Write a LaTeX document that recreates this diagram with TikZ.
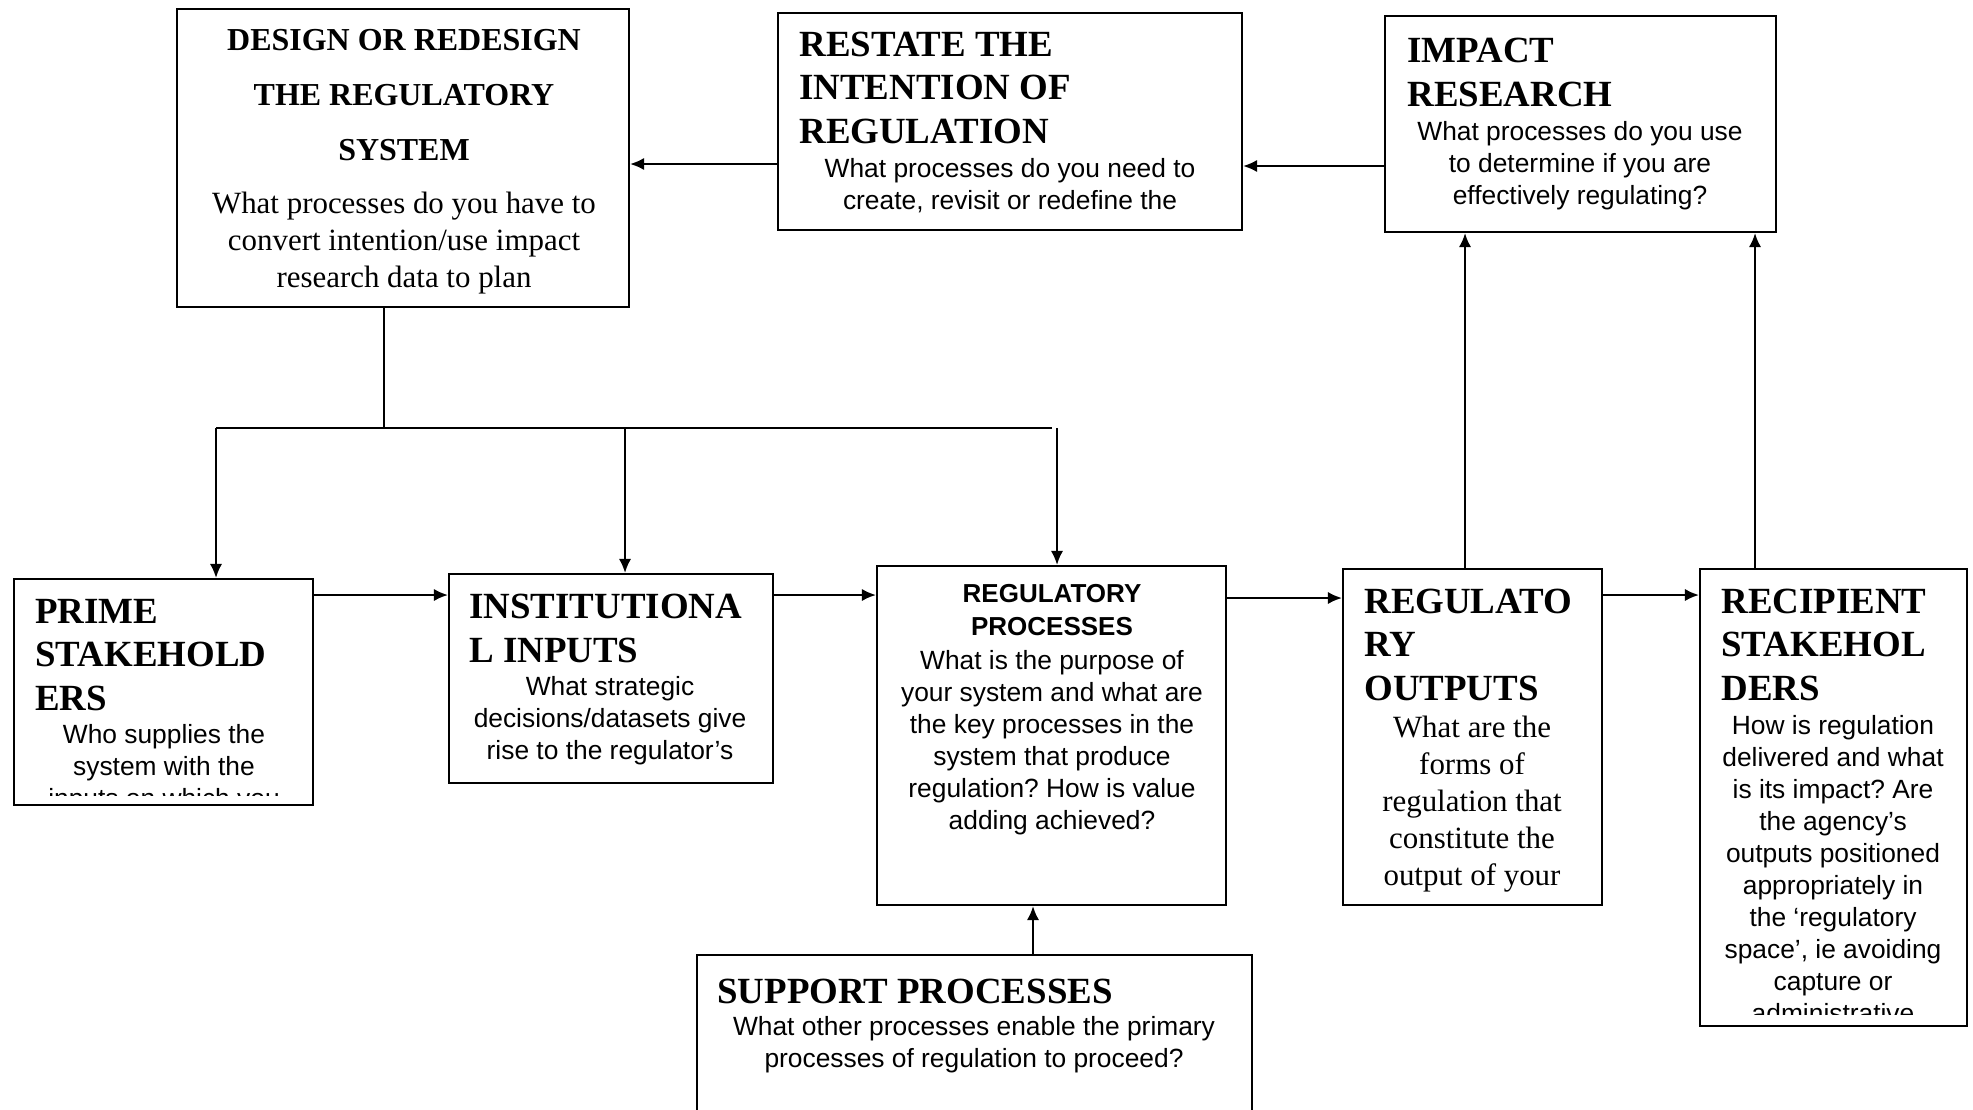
\documentclass[tikz,border=0pt]{standalone}
\usepackage{fontspec}
\setmainfont{Liberation Serif}
\newfontfamily\tahoma{Liberation Sans}
\usetikzlibrary{positioning,fit,arrows.meta}
\tikzstyle{box} = [rectangle, draw=black, line width=1.2pt, inner sep=0pt]
\tikzstyle{arrow} = [line width=1.2pt,-{Latex[length=8pt,width=7pt]}]
\tikzstyle{ttl} = [inner sep=0pt, align=left, font=\fontsize{21}{24.5}\selectfont\bfseries]
\tikzstyle{qs} = [inner sep=0pt, align=center, font=\tahoma\fontsize{15}{18.2}\selectfont]
\tikzstyle{qr} = [inner sep=0pt, align=center, font=\fontsize{17.6}{21}\selectfont]
\frenchspacing

\begin{document}
\begin{tikzpicture}[x=0.02cm, y=-0.02cm]
\useasboundingbox (0,0) rectangle (1973,1109);

% the boxes
\node[box, fit={(177,9) (629,307)}] (design) {};
\node[box, fit={(778,13) (1242,230)}] (restate) {};
\node[box, fit={(1385,16) (1776,232)}] (impact) {};
\node[box, fit={(14,579) (313,805)}] (prime) {};
\node[box, fit={(449,574) (773,783)}] (inst) {};
\node[box, fit={(877,566) (1226,905)}] (regproc) {};
\node[box, fit={(1343,569) (1602,905)}] (outputs) {};
\node[box, fit={(1700,569) (1967,1026)}] (recip) {};
\node[box, fit={(697,955) (1252,1140)}] (support) {};

% texts (placed at the baseline of their last line)
\node[ttl, anchor=base, align=center, font=\fontsize{18.2}{31.3}\selectfont\bfseries] (designT) at (404,160) {DESIGN OR REDESIGN\\THE REGULATORY\\SYSTEM};
\node[qr, anchor=base, font=\fontsize{17.6}{20.8}\selectfont] (designQ) at (404,287) {What processes do you have to\\convert intention/use impact\\research data to plan};

\node[ttl, anchor=base west] (restateT) at (799,143) {RESTATE THE\\INTENTION OF\\REGULATION};
\node[qs, anchor=base] (restateQ) at (1010,209) {What processes do you need to\\create, revisit or redefine the};

\node[ttl, anchor=base west] (impactT) at (1407,106) {IMPACT\\RESEARCH};
\node[qs, anchor=base] (impactQ) at (1580,204) {What processes do you use\\to determine if you are\\effectively regulating?};

\node[ttl, anchor=base west] (primeT) at (35,710) {PRIME\\STAKEHOLD\\ERS};
\begin{scope}
\clip (14,579) rectangle (313,795);
\node[qs, anchor=base] (primeQ) at (164,807) {Who supplies the\\system with the\\inputs on which you};
\end{scope}

\node[ttl, anchor=base west] (instT) at (469,662) {INSTITUTIONA\\L INPUTS};
\node[qs, anchor=base] (instQ) at (610,759) {What strategic\\decisions/datasets give\\rise to the regulator’s};

\node[qs, anchor=base, font=\tahoma\bfseries\fontsize{14.8}{18.5}\selectfont] (regprocT) at (1052,635) {REGULATORY\\PROCESSES};
\node[qs, anchor=base] (regprocQ) at (1052,829) {What is the purpose of\\your system and what are\\the key processes in the\\system that produce\\regulation? How is value\\adding achieved?};

\node[ttl, anchor=base west] (outputsT) at (1364,700) {REGULATO\\RY\\OUTPUTS};
\node[qr, anchor=base] (outputsQ) at (1472,885) {What are the\\forms of\\regulation that\\constitute the\\output of your};

\node[ttl, anchor=base west] (recipT) at (1721,700) {RECIPIENT\\STAKEHOL\\DERS};
\begin{scope}
\clip (1700,569) rectangle (1967,1014);
\node[qs, anchor=base] (recipQ) at (1833,1022) {How is regulation\\delivered and what\\is its impact? Are\\the agency’s\\outputs positioned\\appropriately in\\the ‘regulatory\\space’, ie avoiding\\capture or\\administrative};
\end{scope}

\node[ttl, anchor=base west] (supportT) at (717,1003) {SUPPORT PROCESSES};
\node[qs, anchor=base] (supportQ) at (974,1067) {What other processes enable the primary\\processes of regulation to proceed?};

% connectors
\coordinate (row1) at (0,164);
\coordinate (row2) at (0,166);
\draw[arrow] (restate.west |- row1) -- (design.east |- row1);
\draw[arrow] (impact.west |- row2) -- (restate.east |- row2);

\coordinate (bus) at (384,428);
\coordinate (busL) at (216,428);
\coordinate (busM) at (625,428);
\coordinate (busR) at (1057,428);
\draw[line width=1.2pt] (design.south -| bus) -- (bus);
\draw[line width=1.2pt] (busL) -- (1052,428);
\draw[arrow] (busL) -- (prime.north -| busL);
\draw[arrow] (busM) -- (inst.north -| busM);
\draw[arrow] (busR) -- (regproc.north -| busR);

\coordinate (row3) at (0,595);
\coordinate (row4) at (0,598);
\draw[arrow] (prime.east |- row3) -- (inst.west |- row3);
\draw[arrow] (inst.east |- row3) -- (regproc.west |- row3);
\draw[arrow] (regproc.east |- row4) -- (outputs.west |- row4);
\draw[arrow] (outputs.east |- row3) -- (recip.west |- row3);

\coordinate (upL) at (1465,0);
\coordinate (upR) at (1755,0);
\coordinate (upS) at (1033,0);
\draw[arrow] (outputs.north -| upL) -- (impact.south -| upL);
\draw[arrow] (recip.north -| upR) -- (impact.south -| upR);
\draw[arrow] (support.north -| upS) -- (regproc.south -| upS);
\end{tikzpicture}
\end{document}
